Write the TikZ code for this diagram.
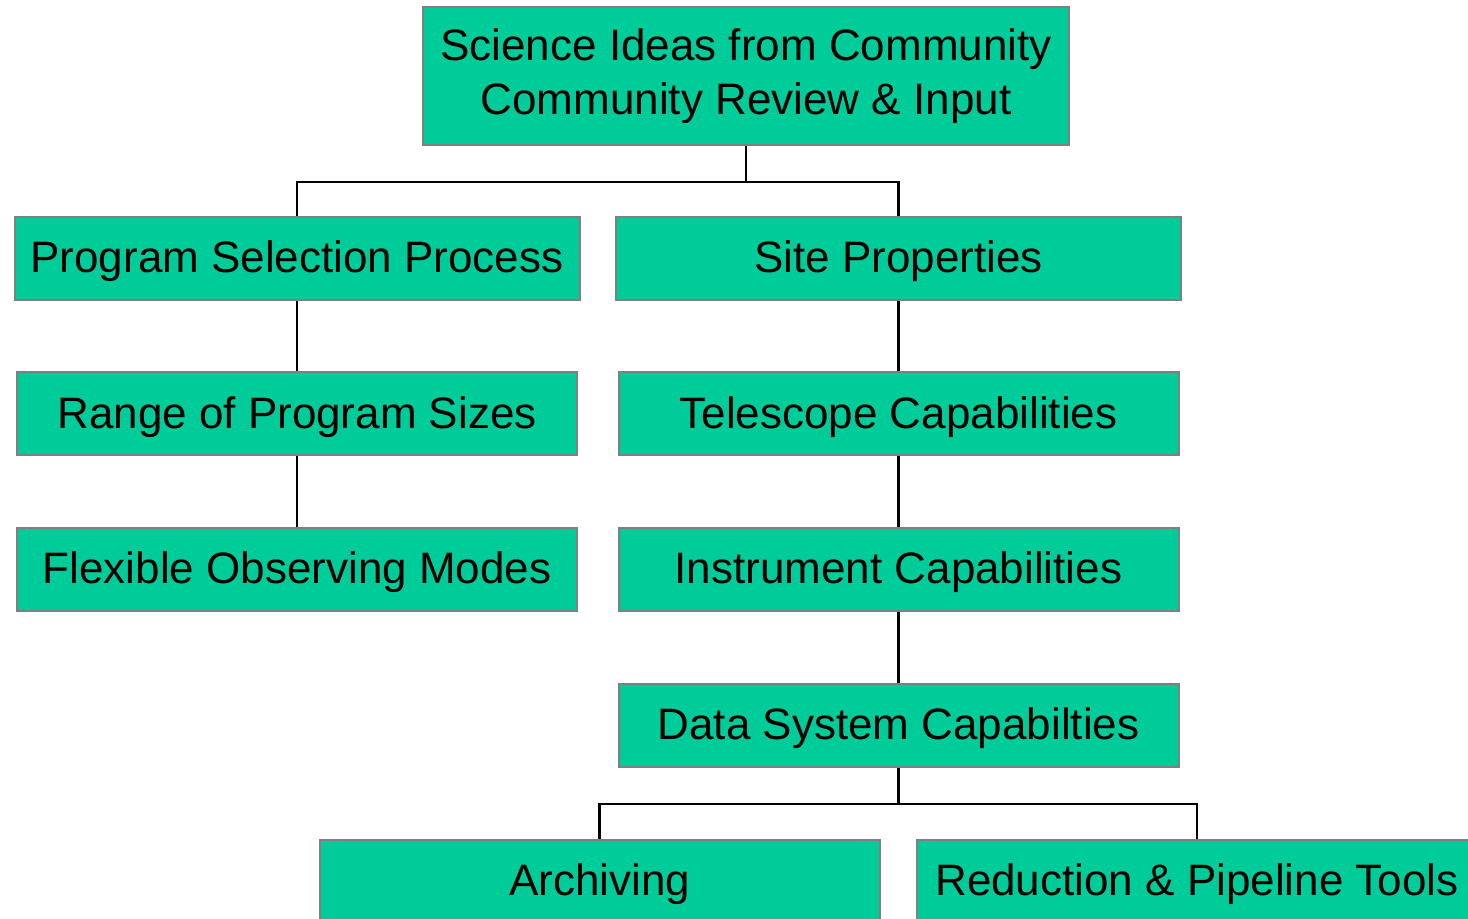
\documentclass[tikz,border=0pt]{standalone}
\usepackage{fontspec}
\setmainfont{Liberation Sans}
\usepackage{tikz}
\definecolor{boxColor}{HTML}{00CC99}
\definecolor{rimColor}{HTML}{808080}

\begin{document}
\begin{tikzpicture}[x=0.5pt,y=0.5pt]

          \tikzstyle{topicNode} = [draw=rimColor, line width=1pt, fill=boxColor, inner sep=0pt,
                                   minimum width=280pt, minimum height=41.5pt, align=center,
                                   text height=19.8pt, text depth=5.5pt,
                                   font=\fontsize{22}{27}\selectfont];
          \tikzstyle{wideNode} = [topicNode, minimum width=282.5pt];
          \tikzstyle{headNode} = [topicNode, text height=, text depth=,
                                  minimum width=323pt, minimum height=69pt];

          \tikzstyle{normalEdge} = [line width=1.2pt, black];

          \useasboundingbox (0,0) rectangle (1468,-919);

          \node[headNode] (sci) at (746,-76) {Science Ideas from Community\\Community Review \& Input};
          \node[wideNode] (prog) at (297,-258.5) {Program Selection Process};
          \node[wideNode] (site) at (898.5,-258.5) {Site Properties};
          \node[topicNode] (range) at (297,-414) {Range of Program Sizes};
          \node[topicNode] (tele) at (898.5,-414) {Telescope Capabilities};
          \node[topicNode] (flex) at (297,-569.5) {Flexible Observing Modes};
          \node[topicNode] (instr) at (898.5,-569.5) {Instrument Capabilities};
          \node[topicNode] (data) at (898.5,-725.5) {Data System Capabilties};
          \node[topicNode] (arch) at (599.5,-881) {Archiving};
          \node[topicNode] (redu) at (1197,-881) {Reduction \& Pipeline Tools};

          \draw[normalEdge] (sci.south) -- ++(0,-36) -| (prog.north);
          \draw[normalEdge] (sci.south) -- ++(0,-36) -| (site.north);
          \draw[normalEdge] (prog) -- (range);
          \draw[normalEdge] (range) -- (flex);
          \draw[normalEdge] (site) -- (tele);
          \draw[normalEdge] (tele) -- (instr);
          \draw[normalEdge] (instr) -- (data);
          \draw[normalEdge] (data.south) -- ++(0,-36) -| (arch.north);
          \draw[normalEdge] (data.south) -- ++(0,-36) -| (redu.north);
        \end{tikzpicture}
\end{document}
